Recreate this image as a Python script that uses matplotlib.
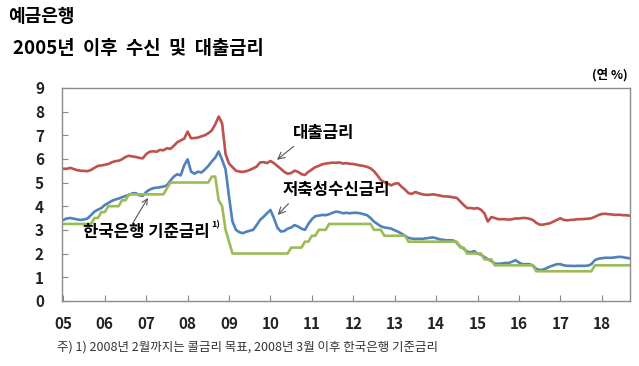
import matplotlib.pyplot as plt
import numpy as np

plt.rcParams['font.family'] = ['Noto Sans CJK KR', 'DejaVu Sans']

# 월별 자료: 2005년 1월 ~ 2018년 9월 (연 %)
# 대출금리
loan_rate = [
    5.58, 5.58, 5.62, 5.57, 5.52, 5.50, 5.49, 5.48, 5.53, 5.62, 5.70, 5.72,   # 2005
    5.75, 5.78, 5.85, 5.90, 5.92, 5.98, 6.08, 6.13, 6.10, 6.08, 6.04, 6.02,   # 2006
    6.20, 6.30, 6.32, 6.30, 6.38, 6.36, 6.45, 6.42, 6.55, 6.70, 6.78, 6.85,   # 2007
    7.15, 6.87, 6.88, 6.90, 6.95, 7.00, 7.08, 7.20, 7.45, 7.79, 7.50, 6.20,   # 2008
    5.80, 5.65, 5.50, 5.46, 5.45, 5.48, 5.53, 5.60, 5.67, 5.85, 5.86, 5.82,   # 2009
    5.91, 5.82, 5.70, 5.58, 5.45, 5.37, 5.40, 5.50, 5.45, 5.35, 5.32, 5.45,   # 2010
    5.55, 5.65, 5.70, 5.77, 5.80, 5.82, 5.84, 5.83, 5.85, 5.80, 5.82, 5.79,   # 2011
    5.78, 5.75, 5.72, 5.70, 5.66, 5.60, 5.48, 5.30, 5.10, 5.02, 4.95, 4.88,   # 2012
    4.95, 4.97, 4.82, 4.70, 4.55, 4.52, 4.60, 4.55, 4.50, 4.48, 4.48, 4.50,   # 2013
    4.48, 4.45, 4.42, 4.41, 4.40, 4.37, 4.35, 4.20, 4.05, 3.92, 3.92, 3.90,   # 2014
    3.92, 3.85, 3.70, 3.35, 3.54, 3.50, 3.45, 3.45, 3.45, 3.43, 3.45, 3.48,   # 2015
    3.48, 3.50, 3.50, 3.47, 3.42, 3.30, 3.22, 3.22, 3.25, 3.28, 3.35, 3.42,   # 2016
    3.49, 3.42, 3.40, 3.42, 3.43, 3.45, 3.45, 3.46, 3.47, 3.49, 3.55, 3.62,   # 2017
    3.67, 3.68, 3.66, 3.65, 3.63, 3.64, 3.62, 3.62, 3.60,                     # 2018
]

# 저축성수신금리
deposit_rate = [
    3.42, 3.48, 3.50, 3.47, 3.44, 3.42, 3.44, 3.48, 3.62, 3.77, 3.85, 3.92,   # 2005
    4.05, 4.13, 4.22, 4.28, 4.32, 4.38, 4.43, 4.48, 4.54, 4.55, 4.46, 4.44,   # 2006
    4.60, 4.70, 4.76, 4.78, 4.80, 4.83, 4.88, 5.08, 5.25, 5.35, 5.30, 5.72,   # 2007
    5.98, 5.46, 5.37, 5.46, 5.42, 5.55, 5.70, 5.89, 6.05, 6.31, 5.96, 5.55,   # 2008
    4.40, 3.35, 3.00, 2.90, 2.86, 2.92, 2.96, 3.00, 3.20, 3.42, 3.55, 3.70,   # 2009
    3.84, 3.50, 3.10, 2.93, 2.95, 3.05, 3.10, 3.20, 3.14, 3.05, 3.00, 3.25,   # 2010
    3.45, 3.58, 3.60, 3.63, 3.62, 3.66, 3.72, 3.77, 3.75, 3.70, 3.72, 3.70,   # 2011
    3.72, 3.72, 3.70, 3.66, 3.62, 3.50, 3.35, 3.25, 3.15, 3.10, 3.08, 3.05,   # 2012
    2.98, 2.92, 2.84, 2.75, 2.66, 2.63, 2.62, 2.62, 2.62, 2.64, 2.66, 2.68,   # 2013
    2.65, 2.60, 2.58, 2.56, 2.56, 2.55, 2.45, 2.30, 2.20, 2.08, 2.05, 2.10,   # 2014
    2.00, 1.95, 1.85, 1.76, 1.68, 1.58, 1.56, 1.58, 1.60, 1.60, 1.65, 1.72,   # 2015
    1.62, 1.55, 1.55, 1.55, 1.50, 1.35, 1.30, 1.32, 1.38, 1.45, 1.50, 1.55,   # 2016
    1.55, 1.50, 1.48, 1.48, 1.47, 1.48, 1.48, 1.48, 1.49, 1.55, 1.72, 1.78,   # 2017
    1.80, 1.82, 1.82, 1.82, 1.84, 1.86, 1.85, 1.82, 1.80,                     # 2018
]

# 한국은행 기준금리 (2008년 2월까지는 콜금리 목표)
base_rate = [
    3.25, 3.25, 3.25, 3.25, 3.25, 3.25, 3.25, 3.25, 3.25, 3.50, 3.50, 3.75,   # 2005
    3.75, 4.00, 4.00, 4.00, 4.00, 4.25, 4.25, 4.50, 4.50, 4.50, 4.50, 4.50,   # 2006
    4.50, 4.50, 4.50, 4.50, 4.50, 4.50, 4.75, 5.00, 5.00, 5.00, 5.00, 5.00,   # 2007
    5.00, 5.00, 5.00, 5.00, 5.00, 5.00, 5.00, 5.25, 5.25, 4.25, 4.00, 3.00,   # 2008
    2.50, 2.00, 2.00, 2.00, 2.00, 2.00, 2.00, 2.00, 2.00, 2.00, 2.00, 2.00,   # 2009
    2.00, 2.00, 2.00, 2.00, 2.00, 2.00, 2.25, 2.25, 2.25, 2.25, 2.50, 2.50,   # 2010
    2.75, 2.75, 3.00, 3.00, 3.00, 3.25, 3.25, 3.25, 3.25, 3.25, 3.25, 3.25,   # 2011
    3.25, 3.25, 3.25, 3.25, 3.25, 3.25, 3.00, 3.00, 3.00, 2.75, 2.75, 2.75,   # 2012
    2.75, 2.75, 2.75, 2.75, 2.50, 2.50, 2.50, 2.50, 2.50, 2.50, 2.50, 2.50,   # 2013
    2.50, 2.50, 2.50, 2.50, 2.50, 2.50, 2.50, 2.25, 2.25, 2.00, 2.00, 2.00,   # 2014
    2.00, 2.00, 1.75, 1.75, 1.75, 1.50, 1.50, 1.50, 1.50, 1.50, 1.50, 1.50,   # 2015
    1.50, 1.50, 1.50, 1.50, 1.50, 1.25, 1.25, 1.25, 1.25, 1.25, 1.25, 1.25,   # 2016
    1.25, 1.25, 1.25, 1.25, 1.25, 1.25, 1.25, 1.25, 1.25, 1.25, 1.50, 1.50,   # 2017
    1.50, 1.50, 1.50, 1.50, 1.50, 1.50, 1.50, 1.50, 1.50,                     # 2018
]

year_labels = ['05', '06', '07', '08', '09', '10', '11', '12', '13', '14', '15', '16', '17', '18']
y_ticks = [0, 1, 2, 3, 4, 5, 6, 7, 8, 9]

months = np.arange(len(loan_rate))

fig = plt.figure(figsize=(6.39, 3.66), dpi=100)
ax = fig.add_axes([0.097, 0.178, 0.889, 0.582])

ax.plot(months, loan_rate, color='#C0504D', lw=1.9, solid_joinstyle='round')
ax.plot(months, deposit_rate, color='#4F81BD', lw=1.9, solid_joinstyle='round')
ax.plot(months, base_rate, color='#9BBB59', lw=1.9, solid_joinstyle='round')

ax.set_xlim(-0.4, len(loan_rate) - 0.8)
ax.set_ylim(0, 9)

ax.set_xticks(np.arange(len(year_labels)) * 12)
ax.set_xticklabels(year_labels)
ax.set_yticks(y_ticks)

ax.tick_params(axis='x', direction='in', length=4, color='#888888', pad=11,
               labelsize=11)
ax.tick_params(axis='y', direction='in', length=4, color='#888888', pad=13,
               labelsize=11)
for lab in ax.get_xticklabels() + ax.get_yticklabels():
    lab.set_fontweight('bold')
    lab.set_color('#222222')

for sp in ax.spines.values():
    sp.set_color('#8c8c8c')
    sp.set_linewidth(1.0)

arrow = dict(arrowstyle='->', color='#555555', lw=0.8, shrinkA=2, shrinkB=0)

ax.annotate('대출금리', xy=(61.9, 5.96), xytext=(75.5, 7.1),
            fontsize=12, fontweight='bold', ha='center', va='center',
            arrowprops=dict(arrow, relpos=(0.1, 0.0)))
ax.annotate('저축성수신금리', xy=(62.1, 3.63), xytext=(79.0, 4.69),
            fontsize=12, fontweight='bold', ha='center', va='center',
            arrowprops=dict(arrow, relpos=(0.1, 0.0)))

# 한국은행 기준금리: 글자, 각주 번호, 화살표를 따로 그림
bok = ax.text(24.0, 2.92, '한국은행 기준금리', fontsize=12, fontweight='bold',
              ha='center', va='center')
ax.annotate('1)', xy=(1.0, 1.0), xycoords=bok, xytext=(1, 2),
            textcoords='offset points', fontsize=6.5, fontweight='bold',
            ha='left', va='top')
ax.annotate('', xy=(24.5, 4.35), xytext=(20.2, 3.3),
            arrowprops=dict(arrow, shrinkA=0))

fig.text(0.012, 0.955, '예금은행', fontsize=13, fontweight='bold',
         ha='left', va='center')
fig.text(0.02, 0.868, '2005년  이후  수신  및  대출금리', fontsize=13.5,
         fontweight='bold', ha='left', va='center')
fig.text(0.983, 0.797, '(연 %)', fontsize=9, fontweight='bold',
         ha='right', va='center')
fig.text(0.089, 0.052, '주) 1) 2008년 2월까지는 콜금리 목표, 2008년 3월 이후 한국은행 기준금리',
         fontsize=9, color='#333333', ha='left', va='center')

fig.savefig('out.png', dpi=100)
